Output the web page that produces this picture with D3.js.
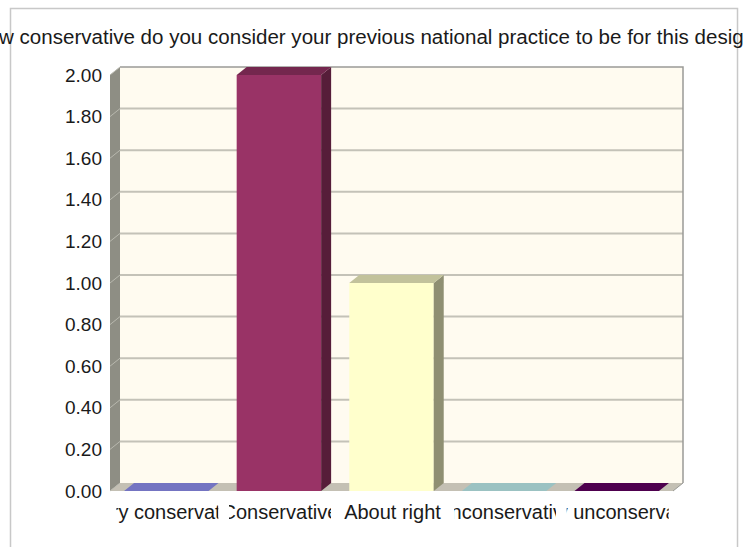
<!DOCTYPE html>
<html><head><meta charset="utf-8">
<script src="https://cdn.jsdelivr.net/npm/d3@7"></script>
<style>body{margin:0;background:#fff;}svg{display:block;font-family:"Liberation Sans",Arial,sans-serif;}</style>
</head><body>
<svg id="c" width="743" height="547"></svg>
<script>
const titleText = "How conservative do you consider your previous national practice to be for this design?";
const categories = ["Very conservative","Conservative","About right","Unconservative","Very unconservative"];
const values = [0, 2, 1, 0, 0];
const colors = ["#9999ff","#993366","#ffffcc","#ccffff","#660066"];
const yTicks = [0,0.2,0.4,0.6,0.8,1.0,1.2,1.4,1.6,1.8,2.0];

const svg = d3.select("#c");
const left = 110, right = 673, dx = 10, dy = -8;
const y = d3.scaleLinear().domain([0,2]).range([491,75]);
const x = d3.scaleBand().domain(categories).range([left,right]).paddingInner(0.25).paddingOuter(0.125);
const y0 = y(0);

// outer frame
svg.append("rect").attr("x",10.5).attr("y",8.5).attr("width",727).attr("height",540)
  .attr("fill","#fff").attr("stroke","#c8c8c8").attr("stroke-width",1.5);

// title
const t = svg.append("text").attr("y",44).attr("font-size",19).attr("fill","#1a1a1a").text(titleText);
(function(){
  const node = t.node();
  const full = titleText;
  const s = full.indexOf("w conservative");
  const e = full.indexOf("desig") + 5;
  let fs = 19;
  t.attr("font-size",fs);
  let wsub = node.getSubStringLength(s, e - s);
  fs = fs * 745 / wsub;
  t.attr("font-size",fs);
  const off = node.getSubStringLength(0, s);
  t.attr("x", -off - 1);
})();

// left wall
svg.append("polygon")
  .attr("points",[[left,y(2)],[left+dx,y(2)+dy],[left+dx,y0+dy],[left,y0]].map(p=>p.join(",")).join(" "))
  .attr("fill","#8e8e84");
// floor
svg.append("polygon")
  .attr("points",[[left,y0],[left+dx,y0+dy],[right+dx,y0+dy],[right,y0]].map(p=>p.join(",")).join(" "))
  .attr("fill","#c4c0b4");
// back wall
svg.append("rect").attr("x",left+dx).attr("y",y(2)+dy).attr("width",right-left).attr("height",y0-y(2))
  .attr("fill","#fffbf0");
// gridlines
const g = svg.append("g");
yTicks.forEach(v=>{
  if(v>0 && v<2){
    g.append("line").attr("x1",left+dx).attr("x2",right+dx).attr("y1",y(v)+dy).attr("y2",y(v)+dy)
      .attr("stroke","#c4c2b8").attr("stroke-width",2);
  }
  g.append("line").attr("x1",left).attr("x2",left+dx).attr("y1",y(v)).attr("y2",y(v)+dy)
    .attr("stroke","#b8b8ae").attr("stroke-width",1);
});
// back wall border top and right
svg.append("path").attr("d",`M${left+dx},${y(2)+dy}H${right+dx}V${y0+dy}`)
  .attr("fill","none").attr("stroke","#9a9a96").attr("stroke-width",1.5);
// floor right edge
svg.append("line").attr("x1",right).attr("y1",y0).attr("x2",right+dx).attr("y2",y0+dy)
  .attr("stroke","#9a9a96").attr("stroke-width",1);

// bars
const shade = (c,k)=>{const r=d3.rgb(c);return d3.rgb(r.r*k,r.g*k,r.b*k).formatHex();};
const bw = x.bandwidth();
const bars = svg.append("g");
categories.forEach((c,i)=>{
  const bx = x(c), yv = y(values[i]);
  const col = colors[i];
  if(values[i]>0){
    bars.append("rect").attr("x",bx).attr("y",yv).attr("width",bw).attr("height",y0-yv).attr("fill",col);
    bars.append("polygon").attr("points",[[bx+bw,yv],[bx+bw+dx,yv+dy],[bx+bw+dx,y0+dy],[bx+bw,y0]].map(p=>p.join(",")).join(" "))
      .attr("fill",shade(col,0.56));
  }
  bars.append("polygon").attr("points",[[bx,yv],[bx+dx,yv+dy],[bx+bw+dx,yv+dy],[bx+bw,yv]].map(p=>p.join(",")).join(" "))
    .attr("fill",shade(col,0.76));
});

// y axis labels
const ya = svg.append("g").attr("transform",`translate(${left},0)`)
  .call(d3.axisLeft(y).tickValues(yTicks).tickFormat(d3.format(".2f")).tickSize(0).tickPadding(8));
ya.select(".domain").remove();
ya.selectAll("text").attr("font-size",19).attr("fill","#1a1a1a").attr("font-family","Liberation Sans, Arial, sans-serif");

// x labels clipped to their category slot
const defs = svg.append("defs");
const clipW = 102;
categories.forEach((c,i)=>{
  const cx = x(c) + bw/2;
  defs.append("clipPath").attr("id","cl"+i).append("rect")
    .attr("x",cx-clipW/2+1).attr("y",495).attr("width",clipW).attr("height",35);
  svg.append("text").attr("clip-path",`url(#cl${i})`).attr("x",cx+1).attr("y",519)
    .attr("text-anchor","middle").attr("font-size",20).attr("fill","#1a1a1a").text(c);
});
</script>
</body></html>
